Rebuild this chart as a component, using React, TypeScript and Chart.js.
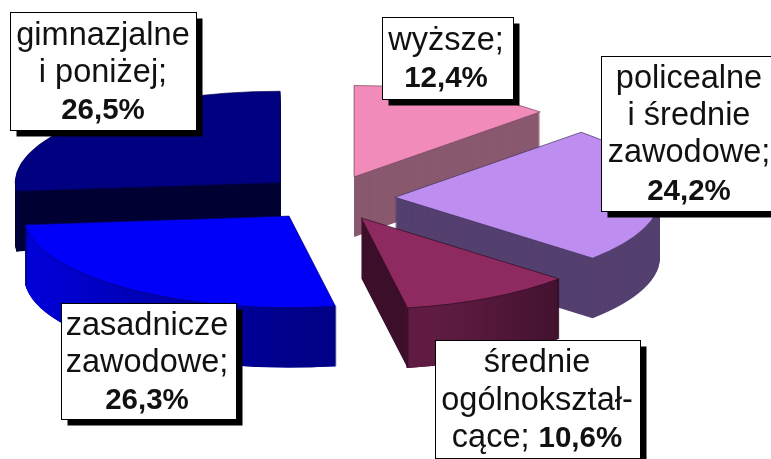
import React, { useEffect, useRef } from "react";
import { Chart, registerables } from "chart.js";

Chart.register(...registerables);

// ---- data (clockwise from the top) ----
const categories = ["wyższe", "policealne i średnie zawodowe", "średnie ogólnokształcące", "zasadnicze zawodowe", "gimnazjalne i poniżej"];
const shares = [12.4, 24.2, 10.6, 26.3, 26.5];

// ---- styles ----
const topColors = ["#f18cba", "#bd8ef0", "#8e2a60", "#0000fa", "#000080"];
const cutColors = ["#89596f", "#54406f", "#3c0f2a", "#00008a", "#000033"];
const rimLeft = ["#89596f", "#5c4882", "#5f1b42", "#0000e6", "#000033"];
const rimRight = ["#89596f", "#4f3d6e", "#3c0f2a", "#000088", "#000033"];
const edgeColors = ["#6e4058", "#3c2c55", "#2c0a20", "#000070", "#00004d"];
const paintOrder = [0, 4, 1, 2, 3];
const EXPLODE = 66;
const RADIUS = 265;
const SQUASH = 0.345;
const DEPTH = 60;

type Run = { t: string; bold?: boolean };
const labelLines: Run[][][] = [
  [[{ t: "wyższe;" }], [{ t: "12,4%", bold: true }]],
  [[{ t: "policealne" }], [{ t: "i średnie" }], [{ t: "zawodowe;" }], [{ t: "24,2%", bold: true }]],
  [[{ t: "średnie" }], [{ t: "ogólnokształ-" }], [{ t: "cące; " }, { t: "10,6%", bold: true }]],
  [[{ t: "zasadnicze" }], [{ t: "zawodowe;" }], [{ t: "26,3%", bold: true }]],
  [[{ t: "gimnazjalne" }], [{ t: "i poniżej;" }], [{ t: "26,5%", bold: true }]],
];
// box: x, y, w, h; text centre x and baselines
const labelBoxes = [
  { x: 382.5, y: 17.5, w: 131, h: 82, cx: 446, base: [50, 87] },
  { x: 601.5, y: 56.5, w: 180, h: 155, cx: 689, base: [88, 125, 162, 200] },
  { x: 435.5, y: 340.5, w: 205, h: 118, cx: 537, base: [372, 410, 447] },
  { x: 61.5, y: 303.5, w: 175, h: 116, cx: 147, base: [335, 372, 409] },
  { x: 10.5, y: 12.5, w: 186, h: 118, cx: 103, base: [45, 82, 119] },
];

const REG = "32.5px 'Liberation Sans', Arial, sans-serif";
const BOLD = "bold 29.5px 'Liberation Sans', Arial, sans-serif";

function arcOptions(bg: any, borderColor = "transparent", borderWidth = 0) {
  return {
    offset: 0, spacing: 0, circular: true, borderRadius: 0, borderJoinStyle: "round",
    borderAlign: "center", borderDash: [], borderDashOffset: 0,
    backgroundColor: bg, borderColor, borderWidth,
  };
}

const pie3d = {
  id: "pie3d",
  beforeDatasetsDraw(chart: any) {
    const ctx: CanvasRenderingContext2D = chart.ctx;
    const arcs = chart.getDatasetMeta(0).data;
    const paint = (arc: any, yShift: number, over: any) => {
      const mid = (arc.startAngle + arc.endAngle) / 2;
      const off = arc.options.offset;
      const view = Object.create(arc);
      Object.assign(view, over);
      ctx.save();
      ctx.translate(arc.x, arc.y + yShift);
      ctx.scale(1, SQUASH);
      ctx.translate(-arc.x, -arc.y);
      ctx.translate(Math.cos(mid) * off, Math.sin(mid) * off);
      view.draw(ctx);
      ctx.restore();
    };
    for (const i of paintOrder) {
      const arc = arcs[i];
      const mid = (arc.startAngle + arc.endAngle) / 2;
      const off = arc.options.offset;
      // cut faces: the whole wedge pushed down
      for (let d = DEPTH; d >= 1; d--) paint(arc, d, { options: arcOptions(cutColors[i]) });
      // rim: only the part facing the viewer
      const two = Math.PI * 2;
      const norm = (a: number) => ((a % two) + two) % two;
      const ns = norm(arc.startAngle);
      const ne = ns + (arc.endAngle - arc.startAngle);
      const from = Math.max(ns, 0);
      const to = Math.min(ne, Math.PI);
      if (to > from) {
        const x0 = arc.x + Math.cos(mid) * off + RADIUS * Math.cos(to);
        const x1 = arc.x + Math.cos(mid) * off + RADIUS * Math.cos(from);
        const g = ctx.createLinearGradient(Math.min(x0, x1), 0, Math.max(x0, x1), 0);
        g.addColorStop(0, rimLeft[i]);
        g.addColorStop(1, rimRight[i]);
        const rimProps = {
          startAngle: from, endAngle: to, circumference: to - from,
          innerRadius: arc.outerRadius - 10, options: arcOptions(g),
        };
        for (let d = DEPTH; d >= 1; d--) paint(arc, d, rimProps);
        // vertical edges at the ends of the rim
        for (const a of [from, to]) {
          if (a === 0 || a === Math.PI) continue;
          const edge = {
            startAngle: a - 0.004, endAngle: a + 0.004, circumference: 0.008,
            innerRadius: arc.outerRadius - 2, options: arcOptions(edgeColors[i]),
          };
          for (let d = DEPTH; d >= 1; d--) paint(arc, d, edge);
        }
      }
      // top face
      paint(arc, 0, { options: arcOptions(topColors[i], edgeColors[i], 1) });
    }
    return false;
  },
  afterDraw(chart: any) {
    const ctx: CanvasRenderingContext2D = chart.ctx;
    ctx.save();
    ctx.textBaseline = "alphabetic";
    ctx.textAlign = "left";
    labelBoxes.forEach((b, i) => {
      ctx.fillStyle = "#000";
      ctx.fillRect(b.x + 6, b.y + 6, b.w, b.h);
      ctx.fillStyle = "#fff";
      ctx.fillRect(b.x, b.y, b.w, b.h);
      ctx.strokeStyle = "#000";
      ctx.lineWidth = 1;
      ctx.strokeRect(b.x, b.y, b.w, b.h);
      ctx.fillStyle = "#111";
      labelLines[i].forEach((runs, l) => {
        let width = 0;
        for (const r of runs) {
          ctx.font = r.bold ? BOLD : REG;
          width += ctx.measureText(r.t).width;
        }
        let x = b.cx - width / 2;
        for (const r of runs) {
          ctx.font = r.bold ? BOLD : REG;
          ctx.fillText(r.t, x, b.base[l]);
          x += ctx.measureText(r.t).width;
        }
      });
    });
    ctx.restore();
  },
};

export default function App() {
  const ref = useRef<HTMLCanvasElement>(null);
  useEffect(() => {
    const chart = new Chart(ref.current as HTMLCanvasElement, {
      type: "pie",
      data: {
        labels: categories,
        datasets: [{
          data: shares,
          backgroundColor: topColors,
          borderWidth: 0,
          offset: EXPLODE,
          radius: RADIUS,
        } as any],
      },
      options: {
        responsive: false,
        animation: false,
        events: [],
        layout: { padding: { left: 0, top: 0, right: 113, bottom: 63 } },
        plugins: { legend: { display: false }, tooltip: { enabled: false } },
      } as any,
      plugins: [pie3d as any],
    });
    return () => chart.destroy();
  }, []);
  return (
    <div style={{ position: "absolute", left: 0, top: 0, width: 771, height: 459, overflow: "hidden", background: "#fff" }}>
      <canvas ref={ref} width={771} height={459} style={{ display: "block", filter: "blur(0.35px)" }} />
    </div>
  );
}
